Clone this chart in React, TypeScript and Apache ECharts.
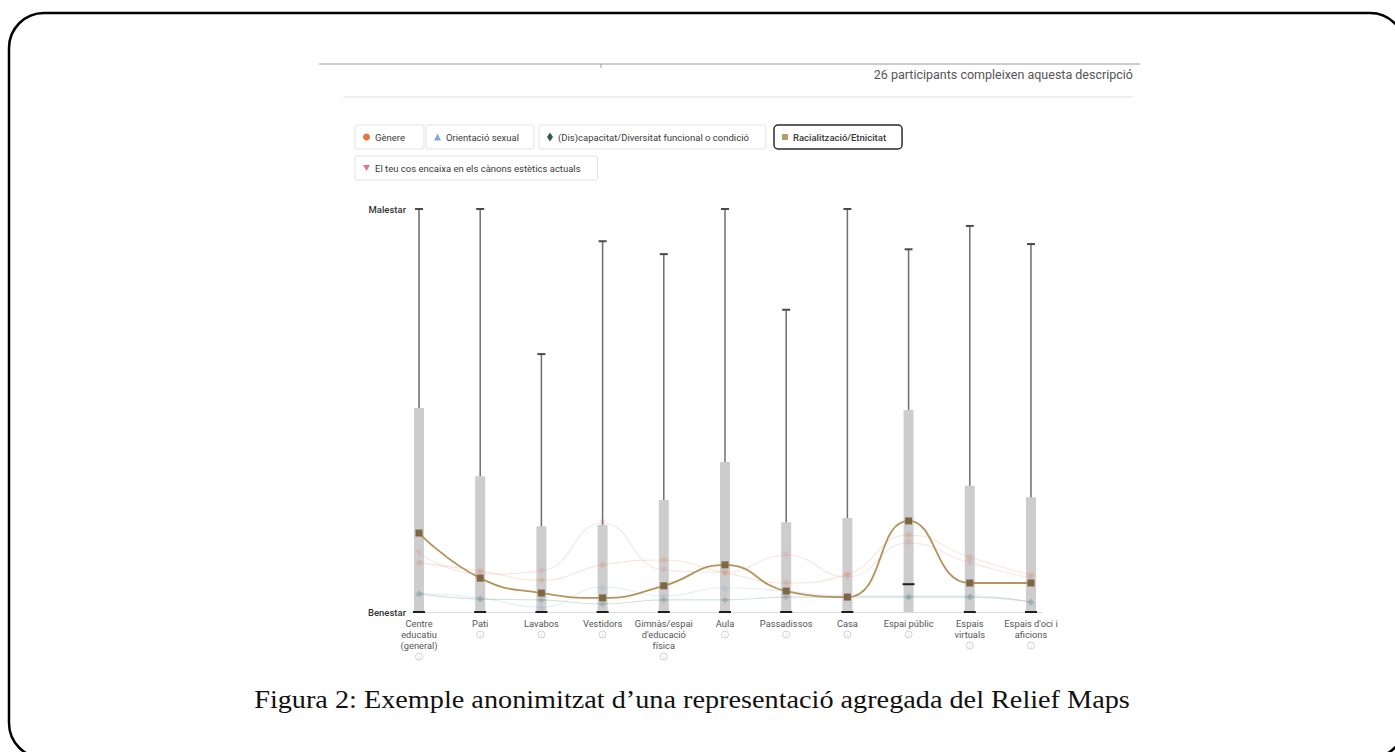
import React, { useEffect, useRef } from "react";
import * as echarts from "echarts";

const categories = [
  "Centre\neducatiu\n(general)",
  "Pati",
  "Lavabos",
  "Vestidors",
  "Gimnàs/espai\nd'educació\nfísica",
  "Aula",
  "Passadissos",
  "Casa",
  "Espai públic",
  "Espais\nvirtuals",
  "Espais d'oci i\naficions",
];
const yLabels = ["Benestar", "Malestar"];
const whiskerMax = [100, 100, 64, 92, 88.8, 100, 75, 100, 90, 95.8, 91.3];
const upperQuartile = [50.6, 33.7, 21.3, 21.6, 27.8, 37.2, 22.3, 23.3, 50.1, 31.3, 28.5];
const medians = [0, 0, 0, 0, 0, 0, 0, 0, 6.9, 0, 0];

const seriesNames = [
  "Gènere",
  "Orientació sexual",
  "(Dis)capacitat/Diversitat funcional o condició",
  "Racialització/Etnicitat",
  "El teu cos encaixa en els cànons estètics actuals",
];
const genere = [12.2, 10.2, 7.9, 11.7, 12.9, 9.7, 7.2, 9.4, 19.1, 13.6, 9.2];
const orientacio = [4.7, 3.5, 1.2, 6.2, 4.0, 6.0, 5.2, 4.0, 4.0, 4.0, 2.5];
const discapacitat = [4.5, 3.2, 3.0, 2.0, 3.0, 3.0, 3.7, 3.7, 3.7, 3.7, 2.5];
const racialitzacio = [19.6, 8.4, 4.7, 3.5, 6.5, 11.7, 5.2, 3.7, 22.6, 7.2, 7.2];
const cos = [14.6, 9.4, 10.2, 22.1, 10.4, 9.9, 14.1, 8.7, 17.1, 12.2, 8.4];

const participantsText = "26 participants compleixen aquesta descripció";
const captionText = "Figura 2: Exemple anonimitzat d\u2019una representació agregada del Relief Maps";

const FONT = "Roboto, sans-serif";
const INV_TRI = "path://M0,0 L10,0 L5,8.7 Z";

const toPairs = (arr: number[]) => arr.map((v, i) => [i, v]);

export default function App() {
  const ref = useRef<HTMLDivElement>(null);
  useEffect(() => {
    if (!ref.current) return;
    const chart = echarts.init(ref.current, null, { renderer: "svg" });

    const fadedLine = (name: string, data: number[], color: string, symbol: string, size: number) => ({
      name,
      type: "line",
      data: toPairs(data),
      smooth: 0.5,
      symbol,
      symbolSize: size,
      z: 3,
      lineStyle: { color, width: 1.1, opacity: 0.2 },
      itemStyle: { color, opacity: 0.2 },
    });

    const legendBox = (
      name: string,
      icon: string,
      color: string,
      left: number,
      top: number,
      selected = false,
      iw = 7,
      ih = 7,
      padRight = 15
    ) => ({
      data: [{ name, icon }],
      left,
      top,
      padding: [7, padRight, 7, 8],
      itemWidth: iw,
      itemHeight: ih,
      selectedMode: false,
      borderColor: selected ? "#2b2b2b" : "#e2e2e2",
      borderWidth: selected ? 1.5 : 1,
      borderRadius: selected ? 4 : 2,
      textStyle: { fontSize: 9.5, color: "#3a3a3a", fontFamily: FONT, fontWeight: selected ? 500 : 400 },
      itemStyle: { opacity: 1, color },
    });

    const option: any = {
      animation: false,
      backgroundColor: "#ffffff",
      grid: { left: 410, right: 353, top: 209, bottom: 140 },
      xAxis: {
        type: "value",
        min: -0.147,
        max: 10.18,
        axisLine: { show: true, lineStyle: { color: "#dcdcdc", width: 1 } },
        axisTick: { show: false },
        splitLine: { show: false },
        axisLabel: {
          customValues: categories.map((_, i) => i),
          formatter: (v: number) => `${categories[Math.round(v)]}\n{i|i}`,
          color: "#555",
          fontSize: 9.3,
          lineHeight: 11,
          margin: 6,
          fontFamily: FONT,
          rich: {
            i: {
              width: 7,
              height: 7,
              borderRadius: 4,
              borderWidth: 0.8,
              borderColor: "#c4c4c4",
              color: "#c4c4c4",
              fontSize: 5,
              align: "center",
              lineHeight: 11,
            },
          },
        },
      },
      yAxis: {
        type: "value",
        min: 0,
        max: 100,
        interval: 100,
        axisLine: { show: true, lineStyle: { color: "#dcdcdc", width: 1 } },
        axisTick: { show: true, length: 3, lineStyle: { color: "#cfcfcf" } },
        splitLine: { show: false },
        axisLabel: {
          formatter: (v: number) => (v === 0 ? yLabels[0] : v === 100 ? yLabels[1] : ""),
          color: "#333",
          fontSize: 9.5,
          fontWeight: 500,
          margin: 4,
          fontFamily: FONT,
        },
      },
      legend: [
        legendBox(seriesNames[0], "circle", "#e8773f", 355, 125, false, 7, 7, 19),
        legendBox(seriesNames[1], "triangle", "#7fa8dc", 426, 125),
        legendBox(seriesNames[2], "diamond", "#2f5e3e", 539, 125, false, 6, 9, 17),
        legendBox(seriesNames[3], "rect", "#b79c6c", 774, 125, true, 6, 6, 16),
        legendBox(seriesNames[4], INV_TRI, "#d9788f", 355, 156, false, 7, 7, 17),
      ],
      series: [
        {
          type: "custom",
          z: 1,
          clip: false,
          encode: { x: 0, y: [1, 2, 3] },
          data: categories.map((_, i) => [i, upperQuartile[i], whiskerMax[i], medians[i]]),
          renderItem: (params: any, api: any) => {
            const i = api.value(0);
            const base = api.coord([i, 0]);
            const q = api.coord([i, api.value(1)]);
            const top = api.coord([i, api.value(2)]);
            const m = api.coord([i, api.value(3)]);
            return {
              type: "group",
              children: [
                {
                  type: "line",
                  shape: { x1: base[0], y1: base[1], x2: top[0], y2: top[1] },
                  style: { stroke: "#6e6e6e", lineWidth: 1.5 },
                },
                {
                  type: "line",
                  shape: { x1: top[0] - 4, y1: top[1], x2: top[0] + 4, y2: top[1] },
                  style: { stroke: "#4a4a4a", lineWidth: 2 },
                },
                {
                  type: "rect",
                  shape: { x: base[0] - 5, y: q[1], width: 10, height: base[1] - q[1] },
                  style: { fill: "#cdcdcd" },
                },
                {
                  type: "line",
                  shape: { x1: m[0] - 6, y1: m[1], x2: m[0] + 6, y2: m[1] },
                  style: { stroke: "#1e1e1e", lineWidth: 2 },
                },
              ],
            };
          },
        },
        fadedLine(seriesNames[0], genere, "#e8773f", "circle", 6),
        fadedLine(seriesNames[1], orientacio, "#7fa8dc", "triangle", 7),
        fadedLine(seriesNames[2], discapacitat, "#2f6a5a", "diamond", 7),
        fadedLine(seriesNames[4], cos, "#d9788f", INV_TRI, 7),
        {
          name: seriesNames[3],
          type: "line",
          data: toPairs(racialitzacio),
          smooth: 0.5,
          symbol: "rect",
          symbolSize: 7,
          z: 5,
          lineStyle: { color: "#b6935a", width: 1.8 },
          itemStyle: { color: "#7d6744" },
        },
      ],
      graphic: [
        {
          type: "rect",
          shape: { x: 9, y: 13, width: 1396, height: 745, r: 35 },
          style: { fill: "none", stroke: "#000", lineWidth: 2.5 },
          silent: true,
        },
        {
          type: "line",
          shape: { x1: 319, y1: 64, x2: 1140, y2: 64 },
          style: { stroke: "#9a9a9a", lineWidth: 1 },
        },
        {
          type: "line",
          shape: { x1: 601, y1: 64, x2: 601, y2: 68 },
          style: { stroke: "#9a9a9a", lineWidth: 1 },
        },
        {
          type: "line",
          shape: { x1: 343, y1: 97, x2: 1133, y2: 97 },
          style: { stroke: "#dedede", lineWidth: 1 },
        },
        {
          type: "text",
          x: 1133,
          y: 74,
          style: {
            text: participantsText,
            textAlign: "right",
            textVerticalAlign: "middle",
            fontSize: 12.5,
            fill: "#555",
            fontFamily: FONT,
          },
        },
        {
          type: "text",
          x: 692,
          y: 700,
          scaleX: 1.13,
          style: {
            text: captionText,
            textAlign: "center",
            textVerticalAlign: "middle",
            fontSize: 25,
            fill: "#111",
            fontFamily: "Liberation Serif, serif",
          },
        },
      ],
    };

    chart.setOption(option);
    return () => chart.dispose();
  }, []);

  return (
    <div
      ref={ref}
      style={{ position: "absolute", left: 0, top: 0, width: 1395, height: 752 }}
    />
  );
}
